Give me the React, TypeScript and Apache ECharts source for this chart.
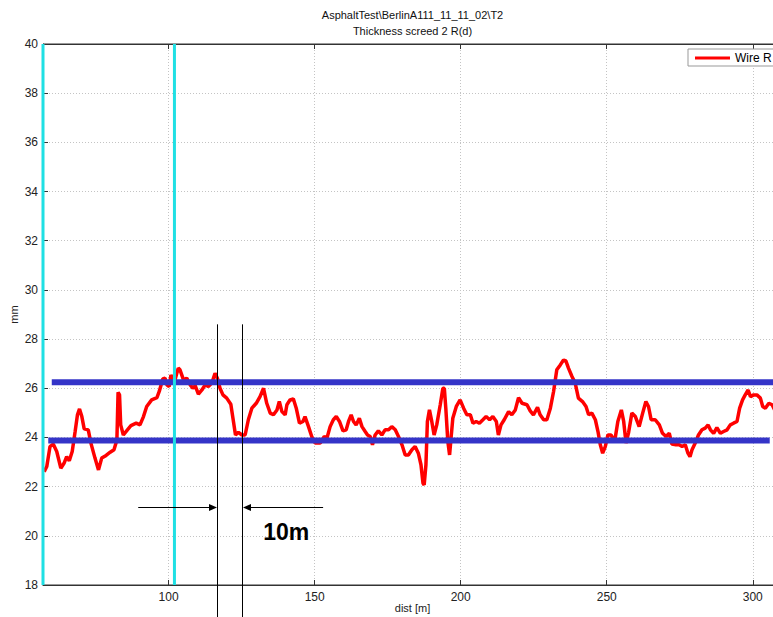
import React, { useEffect, useRef } from "react";
import * as echarts from "echarts";

const titleLines = ["AsphaltTest\\BerlinA111_11_11_02\\T2", "Thickness screed 2 R(d)"];
const seriesName = "Wire R";
const xName = "dist [m]";
const yName = "mm";

const xMin = 57;
const xMax = 310;
const yMin = 18;
const yMax = 40;
const yStep = 2;

const distM = [
  57.4, 58.3, 59.4, 60.5, 61.7, 63.1, 64.2, 65.1, 66.0, 67.0,
  68.0, 68.8, 69.5, 70.3, 71.1, 72.5, 73.4, 74.8, 76.0, 77.1,
  78.6, 80.0, 81.3, 82.3, 82.7, 83.2, 83.6, 84.5, 85.9, 87.1,
  88.9, 90.2, 91.4, 92.5, 94.2, 96.0, 96.8, 98.0, 98.8, 99.4,
  100.2, 100.8, 101.4, 102.2, 103.3, 103.9, 105.1, 106.2, 107.4, 108.3,
  109.1, 110.2, 111.4, 112.5, 113.6, 114.8, 115.9, 116.7, 117.6, 118.6,
  119.9, 121.3, 122.2, 122.9, 123.9, 125.1, 126.2, 127.3, 128.5, 130.0,
  131.3, 132.5, 133.6, 134.8, 135.9, 137.1, 137.9, 138.8, 139.9, 140.5,
  141.6, 142.7, 143.7, 144.8, 146.0, 146.7, 147.9, 149.0, 150.2, 151.9,
  153.3, 154.2, 155.3, 156.4, 157.4, 158.5, 159.7, 160.8, 161.6, 162.5,
  163.3, 164.2, 165.3, 166.2, 167.3, 168.1, 169.0, 169.8, 170.7, 171.8,
  173.0, 174.1, 175.3, 176.4, 177.6, 178.7, 179.9, 181.0, 182.1, 183.3,
  184.4, 185.5, 186.4, 187.1, 187.5, 188.1, 188.6, 189.3, 190.1, 190.9,
  191.8, 193.0, 193.9, 194.4, 194.9, 195.6, 196.2, 196.7, 197.3, 198.5,
  199.8, 201.0, 202.1, 203.3, 204.2, 205.3, 206.4, 207.6, 208.7, 209.9,
  211.0, 212.2, 212.9, 213.8, 214.9, 216.4, 217.5, 218.7, 219.8, 221.0,
  222.7, 223.8, 224.9, 226.3, 227.2, 228.4, 229.5, 230.7, 231.8, 232.9,
  234.1, 235.2, 236.0, 236.9, 238.1, 239.2, 240.3, 241.7, 242.9, 243.8,
  244.9, 246.1, 247.0, 247.8, 248.6, 249.5, 250.4, 251.5, 252.7, 253.8,
  255.0, 255.8, 256.6, 257.5, 258.6, 259.8, 261.1, 262.3, 263.4, 264.3,
  265.2, 266.6, 268.0, 269.1, 270.3, 271.4, 272.3, 273.7, 274.8, 275.8,
  276.9, 277.8, 278.5, 279.2, 280.3, 281.4, 282.6, 283.7, 284.7, 285.5,
  286.6, 287.7, 288.9, 290.0, 291.2, 292.3, 293.4, 294.6, 295.5, 296.5,
  297.4, 298.4, 299.2, 300.3, 301.4, 302.6, 303.4, 304.3, 305.5, 306.6,
  307.5,
];

const wireR = [
  22.61, 22.82, 23.63, 23.73, 23.43, 22.75, 22.95, 23.22, 23.05, 23.43,
  24.24, 24.92, 25.16, 24.85, 24.35, 24.31, 23.77, 23.16, 22.68, 23.16,
  23.27, 23.40, 23.50, 23.90, 25.84, 25.73, 24.51, 24.10, 24.31, 24.48,
  24.58, 24.51, 24.85, 25.26, 25.53, 25.62, 25.87, 26.38, 26.41, 26.14,
  26.07, 26.54, 26.41, 26.34, 26.82, 26.75, 26.34, 26.41, 26.14, 26.00,
  26.11, 25.76, 25.93, 26.14, 26.07, 26.21, 26.61, 26.41, 26.00, 25.73,
  25.60, 25.35, 24.65, 24.10, 24.21, 24.10, 24.10, 24.72, 25.19, 25.39,
  25.66, 26.00, 25.39, 24.99, 24.92, 25.12, 25.46, 25.05, 24.92, 25.33,
  25.53, 25.57, 25.19, 24.58, 24.65, 24.85, 24.44, 24.04, 23.77, 23.77,
  24.04, 23.97, 24.44, 24.72, 24.85, 24.65, 24.27, 24.31, 24.65, 24.92,
  24.65, 24.51, 24.78, 24.44, 24.24, 24.10, 24.04, 23.70, 24.10, 24.27,
  24.10, 24.31, 24.31, 24.44, 24.31, 24.04, 23.70, 23.29, 23.29, 23.50,
  23.63, 23.36, 22.89, 22.14, 22.07, 22.89, 24.65, 25.12, 24.65, 24.10,
  24.51, 25.33, 26.00, 26.00, 25.19, 23.83, 23.29, 23.97, 24.78, 25.26,
  25.53, 25.19, 24.92, 24.92, 24.58, 24.65, 24.58, 24.72, 24.85, 24.72,
  24.85, 24.65, 24.10, 24.51, 24.72, 25.05, 24.92, 25.12, 25.62, 25.39,
  25.33, 25.08, 24.92, 25.22, 24.92, 24.72, 24.72, 25.19, 25.87, 26.75,
  26.95, 27.15, 27.11, 26.82, 26.48, 26.21, 25.60, 25.46, 25.26, 24.92,
  24.99, 24.72, 24.24, 23.70, 23.36, 23.63, 24.10, 24.10, 23.83, 24.65,
  25.12, 24.65, 23.77, 24.21, 24.99, 24.85, 24.44, 24.99, 25.46, 25.26,
  24.72, 24.72, 24.51, 24.17, 24.04, 24.17, 23.73, 23.70, 23.70, 23.63,
  23.70, 23.36, 23.22, 23.50, 23.77, 24.10, 24.31, 24.38, 24.51, 24.31,
  24.17, 24.40, 24.17, 24.24, 24.31, 24.51, 24.58, 24.65, 25.19, 25.53,
  25.73, 25.93, 25.66, 25.73, 25.73, 25.60, 25.26, 25.19, 25.39, 25.33,
  25.12,
];

// limit lines (mm) and their start / end distances
const upperLimit = 26.25;
const upperRange = [60.0, 310.0];
const lowerLimit = 23.88;
const lowerRange = [58.8, 305.8];

// cyan markers (dist)
const cyanMarks = [57.0, 102.0];

// 10 m gap annotation
const gapMarks = [116.7, 125.0];
const gapTopValue = 28.6;
const arrowLevel = 21.18;
const arrowTails = [89.6, 152.9];
const gapLabel = "10m";
const gapLabelPos = [132.4, 20.15];

const FONT = '"Liberation Sans", Arial, Helvetica, sans-serif';
const W = 773;
const H = 617;

export default function App() {
  const ref = useRef<HTMLDivElement>(null);

  useEffect(() => {
    document.body.style.margin = "0";
    const el = ref.current;
    if (!el) return;
    const chart = echarts.init(el, null, { renderer: "svg", width: W, height: H });

    const gridLeft = 43;
    const gridTop = 44;
    const gridWidth = 739;
    const gridHeight = 541;

    const axisColor = "#333";
    const gridLine = { show: true, lineStyle: { color: "#c4c4c4", width: 1, type: [1, 2] as any } };

    const option: any = {
      animation: false,
      backgroundColor: "#fff",
      textStyle: { fontFamily: FONT },
      grid: {
        left: gridLeft,
        top: gridTop,
        width: gridWidth,
        height: gridHeight,
        containLabel: false,
        outerBoundsMode: "none",
        show: true,
        borderColor: axisColor,
        borderWidth: 1,
        backgroundColor: "#fff",
      },
      legend: {
        data: [seriesName],
        left: 688,
        top: 49,
        icon: "rect",
        itemWidth: 35,
        itemHeight: 3,
        padding: [3, 5, 2, 7],
        borderColor: "#999",
        borderWidth: 1,
        backgroundColor: "#fff",
        textStyle: { fontSize: 12, color: "#000", fontFamily: FONT },
        selectedMode: false,
      },
      xAxis: [
        {
          type: "value",
          min: xMin,
          max: xMax,
          position: "bottom",
          name: xName,
          nameLocation: "middle",
          nameGap: 17,
          nameMoveOverlap: false,
          nameTextStyle: { fontSize: 11, color: "#222", fontFamily: FONT },
          axisLine: { show: true, lineStyle: { color: axisColor, width: 1 } },
          axisTick: { show: true, inside: true, length: 5, lineStyle: { color: axisColor } },
          axisLabel: {
            color: "#222",
            fontSize: 12,
            margin: 6,
            fontFamily: FONT,
            showMinLabel: false,
            showMaxLabel: false,
          },
          splitLine: gridLine,
        },
        {
          type: "value",
          min: xMin,
          max: xMax,
          position: "top",
          axisLine: { show: true, lineStyle: { color: axisColor, width: 1 } },
          axisTick: { show: true, inside: true, length: 5, lineStyle: { color: axisColor } },
          axisLabel: { show: false },
          splitLine: { show: false },
        },
      ],
      yAxis: {
        type: "value",
        min: yMin,
        max: yMax,
        interval: yStep,
        name: yName,
        nameLocation: "middle",
        nameGap: 24,
        nameMoveOverlap: false,
        nameRotate: 90,
        nameTextStyle: { fontSize: 11, color: "#222", fontFamily: FONT },
        axisLine: { show: true, lineStyle: { color: axisColor, width: 1 } },
        axisTick: { show: true, inside: true, length: 5, lineStyle: { color: axisColor } },
        axisLabel: { color: "#222", fontSize: 12, margin: 5, fontFamily: FONT },
        splitLine: gridLine,
      },
      series: [
        {
          name: seriesName,
          type: "line",
          data: distM.map((d, i) => [d, wireR[i]]),
          symbol: "none",
          showSymbol: false,
          lineStyle: { color: "#ff0000", width: 3.5 },
          itemStyle: { color: "#ff0000" },
          silent: true,
        },
        {
          name: "upper",
          type: "line",
          data: upperRange.map((d) => [d, upperLimit]),
          symbol: "none",
          lineStyle: { color: "#3434c8", width: 6 },
          itemStyle: { color: "#3434c8" },
          silent: true,
        },
        {
          name: "lower",
          type: "line",
          data: lowerRange.map((d) => [d, lowerLimit]),
          symbol: "none",
          lineStyle: { color: "#3434c8", width: 6 },
          itemStyle: { color: "#3434c8" },
          silent: true,
        },
        ...cyanMarks.map((m, i) => ({
          name: "cyan" + i,
          type: "line",
          data: [
            [m, yMin],
            [m, yMax],
          ],
          symbol: "none",
          lineStyle: { color: "#1fe0e4", width: 3 },
          itemStyle: { color: "#1fe0e4" },
          silent: true,
        })),
      ],
    };

    chart.setOption(option);

    const px = (d: number, v: number) =>
      chart.convertToPixel({ seriesIndex: 0 } as any, [d, v]) as number[];

    const graphics: any[] = [];
    const cx = gridLeft + gridWidth / 2;
    titleLines.forEach((t, i) => {
      graphics.push({
        type: "text",
        x: cx,
        y: 15 + i * 15.5,
        style: {
          text: t,
          font: `11px ${FONT}`,
          fill: "#111",
          textAlign: "center",
          textVerticalAlign: "middle",
        },
        z: 10,
      });
    });

    const markX = gapMarks.map((d) => px(d, gapTopValue));
    markX.forEach((p) => {
      graphics.push({
        type: "line",
        shape: { x1: Math.round(p[0]) + 0.5, y1: p[1], x2: Math.round(p[0]) + 0.5, y2: H },
        style: { stroke: "#000", lineWidth: 1 },
        z: 20,
      });
    });

    const tails = arrowTails.map((d) => px(d, arrowLevel));
    const ay = Math.round(tails[0][1]) + 0.5;
    const tips = [Math.round(markX[0][0]), Math.round(markX[1][0]) + 1];
    tails.forEach((t, i) => {
      const tip = tips[i];
      const dir = t[0] < tip ? 1 : -1;
      const headLen = 8;
      graphics.push({
        type: "line",
        shape: { x1: t[0], y1: ay, x2: tip - dir * headLen, y2: ay },
        style: { stroke: "#000", lineWidth: 1 },
        z: 20,
      });
      graphics.push({
        type: "polygon",
        shape: {
          points: [
            [tip, ay],
            [tip - dir * headLen, ay - 3.5],
            [tip - dir * headLen, ay + 3.5],
          ],
        },
        style: { fill: "#000" },
        z: 20,
      });
    });

    const lp = px(gapLabelPos[0], gapLabelPos[1]);
    graphics.push({
      type: "text",
      x: lp[0],
      y: lp[1],
      style: {
        text: gapLabel,
        font: `bold 23px ${FONT}`,
        fill: "#000",
        textAlign: "left",
        textVerticalAlign: "middle",
      },
      z: 20,
    });

    chart.setOption({ graphic: graphics });

    return () => {
      chart.dispose();
    };
  }, []);

  return <div ref={ref} style={{ width: W, height: H }} />;
}
